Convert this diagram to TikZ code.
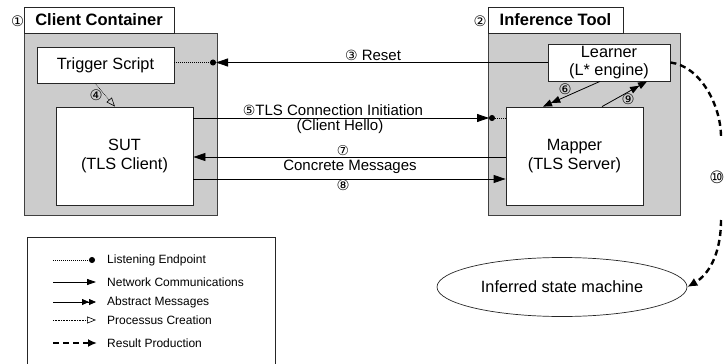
\documentclass[tikz,border=0pt]{standalone}
\usepackage{fontspec}
\setmainfont{Liberation Sans}
\newfontfamily\circfont{DejaVu Sans}
\usetikzlibrary{arrows.meta,shapes.geometric}
\begin{document}
\begin{tikzpicture}[x=1pt,y=-1pt,
  boxnode/.style={draw=black!85, line width=0.8pt, fill=white, inner sep=0pt, align=center, font=\fontsize{16.3}{18.5}\selectfont},
  cframe/.style={draw=black!75, line width=0.8pt, fill=gray!40, inner sep=0pt},
  ttl/.style={draw=black!85, line width=0.8pt, fill=white, inner sep=0pt, font=\fontsize{16.5}{19}\selectfont\bfseries},
  lbl/.style={font=\fontsize{15}{17}\selectfont, inner sep=0pt},
  num/.style={font=\circfont\fontsize{14.5}{15}\selectfont, inner sep=0pt},
  legtxt/.style={font=\fontsize{12}{14}\selectfont, inner sep=0pt, anchor=west},
  netarrow/.style={line width=0.8pt, -{Triangle[length=12pt,width=8pt]}},
  absmsg/.style={line width=0.8pt, -{Triangle[length=9pt,width=7pt]Triangle[length=9pt,width=7pt]}},
  listen/.style={line width=1pt, densely dotted, -{Circle[length=6pt]}},
  proc/.style={line width=0.6pt, densely dotted, -{Triangle[open,length=9pt,width=7pt]}},
  result/.style={line width=2.4pt, dash pattern=on 6pt off 4pt},
  lgnet/.style={line width=0.8pt, -{Triangle[length=9pt,width=6pt]}},
  lgabs/.style={line width=0.8pt, -{Triangle[length=7pt,width=6pt]Triangle[length=7pt,width=6pt]}},
  lgres/.style={line width=2.6pt, dash pattern=on 6pt off 4pt, -{Latex[length=9pt,width=8pt]}},
]
\useasboundingbox (0,0) rectangle (724,364);

% Client container
\node[cframe, minimum width=193pt, minimum height=182pt] (ccbox) at (120.5,124) {};
\node[ttl, minimum width=150pt, minimum height=26pt] (cct) at (99,20) {Client Container};
\node[num] (n1) at (17.5,21) {①};
\node[boxnode, minimum width=137pt, minimum height=36pt] (trig) at (105.5,65) {Trigger Script};
\node[boxnode, minimum width=137pt, minimum height=98pt] (sut) at (124.5,156) {SUT\\(TLS Client)};

% Inference tool
\node[cframe, minimum width=192pt, minimum height=182pt] (itbox) at (584,124) {};
\node[ttl, minimum width=135pt, minimum height=26pt] (itt) at (555.5,20) {Inference Tool};
\node[num] (n2) at (480,21) {②};
\node[boxnode, minimum width=122pt, minimum height=37pt] (learner) at (609,62.5) {Learner\\(L* engine)};
\node[boxnode, minimum width=137pt, minimum height=98pt] (mapper) at (574.5,156) {Mapper\\(TLS Server)};

% Inferred state machine
\node[ellipse, draw=black!85, line width=0.7pt, minimum width=250pt, minimum height=59pt, inner sep=0pt, font=\fontsize{16.3}{18.5}\selectfont] (ism) at (562,287) {Inferred state machine};

% Reset (3)
\coordinate (rdot) at (216,62.5);
\draw[listen] (trig.east |- rdot) -- (rdot);
\draw[netarrow] (learner.west) -- (rdot);
\node[lbl] (lreset) at (373,55) {{\circfont\fontsize{14}{15}\selectfont ③} Reset};

% Trigger -> SUT (4)
\draw[proc] ([xshift=-10.5pt]trig.south) -- ([xshift=-9.5pt]sut.north);
\node[num] (n4) at (96,95) {④};

% TLS connection initiation (5)
\coordinate (mdot) at (489,118);
\draw[netarrow] (sut.east |- mdot) -- (mdot);
\draw[listen] (mapper.west |- mdot) -- (mdot);
\node[lbl] (l5a) at (333,110) {{\circfont\fontsize{14}{15}\selectfont ⑤}TLS Connection Initiation};
\node[lbl] (l5b) at (340,127) {(Client Hello)};

% Concrete messages (7)(8)
\draw[netarrow] ([yshift=-1pt]mapper.west) -- ([yshift=-1pt]sut.east);
\draw[netarrow] ([yshift=-23pt]sut.east) -- ([yshift=-23pt]mapper.west);
\node[num, font=\circfont\fontsize{13.5}{14}\selectfont] (n7) at (343,151) {⑦};
\node[lbl] (lcm) at (350,167) {Concrete Messages};
\node[num] (n8) at (343,185) {⑧};

% Abstract messages (6)(9)
\draw[absmsg] ([xshift=-9pt]learner.south) -- ([xshift=-31.5pt]mapper.north);
\draw[absmsg] ([xshift=27.5pt]mapper.north) -- ([xshift=38pt]learner.south);
\node[num] (n6) at (565,89) {⑥};
\node[num] (n9) at (628,99) {⑨};

% Result production (10)
\coordinate (r1) at (721,137);
\coordinate (r2) at (721,220);
\draw[result] (learner.east) .. controls (700,66) and (721,105) .. (r1);
\draw[result, -{Latex[length=10pt,width=9pt]}] (r2) .. controls (721,255) and (708,275) .. (ism.east);
\node[num, font=\circfont\fontsize{17}{17}\selectfont] (n10) at (717,177) {⑩};

% Legend
\node[draw=black!85, line width=0.7pt, minimum width=248pt, minimum height=140pt, anchor=north west, inner sep=0pt] (legend) at (27,237) {};
\coordinate (l1a) at (53,260); \coordinate (l1b) at (95,260);
\coordinate (l2a) at (53,282); \coordinate (l2b) at (96,282);
\coordinate (l3a) at (53,302); \coordinate (l3b) at (96,302);
\coordinate (l4a) at (53,320); \coordinate (l4b) at (96,320);
\coordinate (l5a) at (53,343); \coordinate (l5b) at (97,343);
\draw[listen] (l1a) -- (l1b);
\draw[lgnet] (l2a) -- (l2b);
\draw[lgabs] (l3a) -- (l3b);
\draw[proc] (l4a) -- (l4b);
\draw[lgres] (l5a) -- (l5b);
\node[legtxt] (t1) at (107,260) {Listening Endpoint};
\node[legtxt] (t2) at (107,282) {Network Communications};
\node[legtxt] (t3) at (107,302) {Abstract Messages};
\node[legtxt] (t4) at (107,320) {Processus Creation};
\node[legtxt] (t5) at (107,343) {Result Production};
\end{tikzpicture}
\end{document}
